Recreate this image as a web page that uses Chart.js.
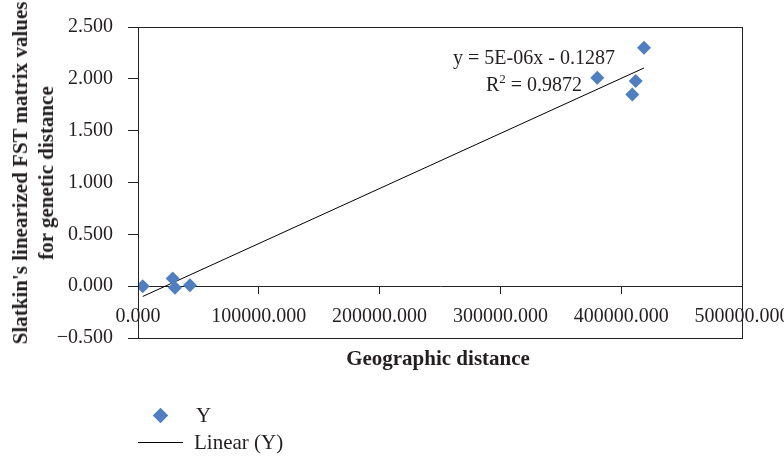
<!DOCTYPE html>
<html lang="en">
  <head>
    <meta charset="UTF-8" />
    <title>Geographic vs genetic distance</title>
    <script src="https://cdn.jsdelivr.net/npm/chart.js"></script>
    <style>
      body {
        margin: 0;
        background: #fff;
        font-family: "Liberation Serif", "DejaVu Serif", serif;
        color: #231f20;
      }
      .wrap {
        position: relative;
        width: 784px;
        height: 457px;
      }
      .lbl {
        position: absolute;
        white-space: nowrap;
        font-size: 21px;
        line-height: 1;
      }
      .bold {
        font-weight: bold;
      }
      #ytitle {
        left: 33px;
        top: 173px;
        transform: translate(-50%, -50%) rotate(-90deg);
        text-align: center;
        line-height: 26px;
      }
      #xtitle {
        left: 438px;
        top: 358px;
        transform: translate(-50%, -50%);
      }
      #eq {
        font-size: 20px;
        left: 534px;
        top: 71px;
        transform: translate(-50%, -50%);
        text-align: center;
        line-height: 27px;
      }
      #eq sup {
        font-size: 13px;
        vertical-align: 8px;
        line-height: 0;
      }
      .legend-row {
        position: absolute;
        display: flex;
        align-items: center;
      }
      .diamond {
        width: 11px;
        height: 11px;
        background: #4f7fbf;
        transform: rotate(45deg);
      }
      .dash {
        width: 45px;
        height: 1px;
        background: #000;
      }
    </style>
  </head>
  <body>
    <div class="wrap">
      <canvas id="chart"></canvas>
      <div id="ytitle" class="lbl bold">Slatkin's linearized FST matrix values<br />for genetic distance</div>
      <div id="xtitle" class="lbl bold">Geographic distance</div>
      <div id="eq" class="lbl">y = 5E-06x - 0.1287<br />R<sup>2</sup> = 0.9872</div>
      <div class="legend-row" style="left: 155px; top: 405px">
        <div class="diamond"></div>
        <span class="lbl" style="position: static; margin-left: 30px">Y</span>
      </div>
      <div class="legend-row" style="left: 138px; top: 432px">
        <div class="dash"></div>
        <span class="lbl" style="position: static; margin-left: 11px">Linear (Y)</span>
      </div>
    </div>
    <script>
      // valores
      const geoDistance = [3900, 28700, 30600, 43000, 380200, 409200, 412000, 418900];
      const fstValues = [0.0, 0.074, -0.015, 0.01, 2.01, 1.85, 1.98, 2.3];
      const xTicks = [0, 100000, 200000, 300000, 400000, 500000];
      const yTicks = [-0.5, 0, 0.5, 1, 1.5, 2, 2.5];

      // reta de tendencia por minimos quadrados
      const n = geoDistance.length;
      const mx = geoDistance.reduce((a, b) => a + b, 0) / n;
      const my = fstValues.reduce((a, b) => a + b, 0) / n;
      let sxy = 0;
      let sxx = 0;
      for (let i = 0; i < n; i++) {
        sxy += (geoDistance[i] - mx) * (fstValues[i] - my);
        sxx += (geoDistance[i] - mx) ** 2;
      }
      const slope = sxy / sxx;
      const intercept = my - slope * mx;
      const xMin = Math.min(...geoDistance);
      const xMax = Math.max(...geoDistance);

      const boxPlugin = {
        id: "box",
        afterDraw(chart) {
          const { ctx, chartArea: a } = chart;
          ctx.save();
          ctx.strokeStyle = "#222";
          ctx.lineWidth = 1;
          ctx.strokeRect(a.left + 0.5, a.top + 0.5, a.right - a.left, a.bottom - a.top);
          ctx.restore();
        },
      };

      const tickFont = { family: "Liberation Serif", size: 20 };

      new Chart(document.getElementById("chart"), {
        type: "scatter",
        data: {
          datasets: [
            {
              label: "Y",
              data: geoDistance.map((x, i) => ({ x: x, y: fstValues[i] })),
              pointStyle: "rectRot",
              pointRadius: 7,
              pointHoverRadius: 7,
              backgroundColor: "#4f7fbf",
              borderColor: "#4f7fbf",
              borderWidth: 0,
            },
            {
              label: "Linear (Y)",
              type: "line",
              data: [
                { x: xMin, y: slope * xMin + intercept },
                { x: xMax, y: slope * xMax + intercept },
              ],
              borderColor: "#000",
              borderWidth: 1,
              pointRadius: 0,
              fill: false,
            },
          ],
        },
        options: {
          responsive: true,
          maintainAspectRatio: false,
          animation: false,
          layout: { padding: { left: 0, right: 42, top: 27, bottom: 119 } },
          plugins: { legend: { display: false }, tooltip: { enabled: false } },
          scales: {
            x: {
              type: "linear",
              position: { y: 0 },
              min: 0,
              max: 500000,
              afterBuildTicks: (s) => {
                s.ticks = xTicks.map((v) => ({ value: v }));
              },
              afterFit: (s) => {
                s.paddingLeft = 0;
                s.paddingRight = 0;
              },
              ticks: {
                font: tickFont,
                color: "#231f20",
                padding: 12,
                maxRotation: 0,
                autoSkip: false,
                callback: (v) => v.toFixed(3),
              },
              grid: { drawOnChartArea: false, drawTicks: true, tickLength: 7, color: "#222" },
              border: { display: true, color: "#222", width: 1 },
            },
            y: {
              min: -0.5,
              max: 2.5,
              afterBuildTicks: (s) => {
                s.ticks = yTicks.map((v) => ({ value: v }));
              },
              afterFit: (s) => {
                s.width = 138;
              },
              ticks: {
                font: tickFont,
                color: "#231f20",
                padding: 15,
                callback: (v) => (v < 0 ? "\u2212" + Math.abs(v).toFixed(3) : v.toFixed(3)),
              },
              grid: { drawOnChartArea: false, drawTicks: true, tickLength: 10, color: "#222" },
              border: { display: true, color: "#222", width: 1 },
            },
          },
        },
        plugins: [boxPlugin],
      });
    </script>
  </body>
</html>
